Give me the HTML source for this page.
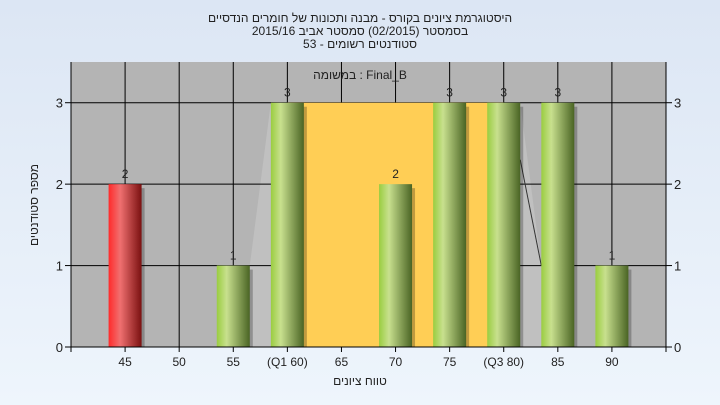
<!DOCTYPE html>
<html><head><meta charset="utf-8">
<style>
html,body{margin:0;padding:0;width:720px;height:405px;overflow:hidden;background:linear-gradient(#dce6f4,#eef5fc);}
svg{display:block;font-family:"Liberation Sans","Noto Sans CJK SC",sans-serif;}
</style></head><body>
<svg id="chart" width="720" height="405">
<defs>
<linearGradient id="gGreen" x1="0" x2="1"><stop offset="0" stop-color="#9acd40"/><stop offset="0.3" stop-color="#c8e08e"/><stop offset="1" stop-color="#4a6424"/></linearGradient>
<linearGradient id="gRed" x1="0" x2="1"><stop offset="0" stop-color="#ff2a2a"/><stop offset="0.35" stop-color="#f07070"/><stop offset="1" stop-color="#7a1010"/></linearGradient>
</defs>
<g font-size="12" fill="#222" text-anchor="middle">
<text x="360" y="22">היסטוגרמת ציונים בקורס - מבנה ותכונות של חומרים הנדסיים</text>
<text x="360" y="35">בסמסטר  (02/2015)  סמסטר אביב 2015/16</text>
<text x="360" y="48">סטודנטים רשומים - 53</text>
</g>
<rect x="71" y="62" width="595" height="285" fill="#b4b4b4"/>
<g id="marks"></g>
<text x="360" y="79" font-size="12" text-anchor="middle" fill="#222">במשומה : Final_B</text>
<text x="360" y="385" font-size="12" text-anchor="middle" fill="#222">טווח ציונים</text>
<text transform="translate(38,205) rotate(-90)" font-size="12" text-anchor="middle" fill="#222">מספר סטודנטים</text>
</svg>
<script>
const categories=["45","50","55","(Q1 60)","65","70","75","(Q3 80)","85","90"];
const counts=[2,0,1,3,0,2,3,3,3,1];
const yTicks=[0,1,2,3];
const q1Index=3, q3Index=7;
const failIndex=[0];
const NS="http://www.w3.org/2000/svg";
const X0=71,X1=666,Y0=347,YT=62,YMAX=3.5;
const step=(X1-X0)/(categories.length+1);
const xs=i=>X0+step*(i+1);
const ys=v=>Y0-(Y0-YT)*v/YMAX;
const g=document.getElementById('marks');
function mk(t,a){const e=document.createElementNS(NS,t);for(const k in a)e.setAttribute(k,a[k]);g.appendChild(e);return e;}
const bw=33;
const lp=mk('polygon',{points:`${xs(2)+bw/2},${Y0} ${xs(2)+bw/2},${ys(counts[2])} ${xs(3)-bw/2},${ys(3)} ${xs(7)+bw/2},${ys(3)} ${xs(8)-bw/2},${ys(1)} ${xs(8)-bw/2},${Y0}`,fill:'#c0c0c0'});


categories.forEach((c,i)=>{const l=mk('line',{x1:xs(i),x2:xs(i),y1:YT,y2:Y0,stroke:'#000','stroke-width':1});

});
yTicks.forEach(v=>{if(v===0)return;const l=mk('line',{x1:X0,x2:X1,y1:ys(v),y2:ys(v),stroke:'#000','stroke-width':1});

});
const band=mk('rect',{x:xs(q1Index),y:ys(3),width:xs(q3Index)-xs(q1Index),height:Y0-ys(3),fill:'#ffce55'});


const cl=mk('line',{x1:xs(7)+bw/2,y1:ys(2.3),x2:xs(8)-bw/2,y2:ys(1),stroke:'#333','stroke-width':1});


counts.forEach((v,i)=>{if(v<=0)return;
const x=xs(i)-bw/2,y=ys(v),h=Y0-y;
const sh=mk('rect',{x:x+3,y:y+4,width:bw,height:h-4,fill:'#000',opacity:0.25});


const r=mk('rect',{x:x,y:y,width:bw,height:h,fill:failIndex.includes(i)?'url(#gRed)':'url(#gGreen)'});


const t=mk('text',{x:xs(i),y:y-6,'font-size':12,'text-anchor':'middle',fill:'#222'});t.textContent=v;

});
const ax=mk('path',{d:`M${X0},${YT} V${Y0} H${X1} V${YT}`,stroke:'#000',fill:'none','stroke-width':1});


yTicks.forEach(v=>{
mk('line',{x1:X0-6,x2:X0,y1:ys(v),y2:ys(v),stroke:'#000'});
mk('line',{x1:X1,x2:X1+6,y1:ys(v),y2:ys(v),stroke:'#000'});
const a=mk('text',{x:X0-8,y:ys(v)+5,'font-size':13,'text-anchor':'end',fill:'#222'});a.textContent=v;


const b=mk('text',{x:X1+8,y:ys(v)+5,'font-size':13,fill:'#222'});b.textContent=v;

});
for(let i=-1;i<=categories.length;i++){mk('line',{x1:xs(i),x2:xs(i),y1:Y0,y2:Y0+5,stroke:'#000'});}
categories.forEach((c,i)=>{const t=mk('text',{x:xs(i),y:Y0+19,'font-size':12,'text-anchor':'middle',fill:'#222'});t.textContent=c;

});
</script>
</body></html>
